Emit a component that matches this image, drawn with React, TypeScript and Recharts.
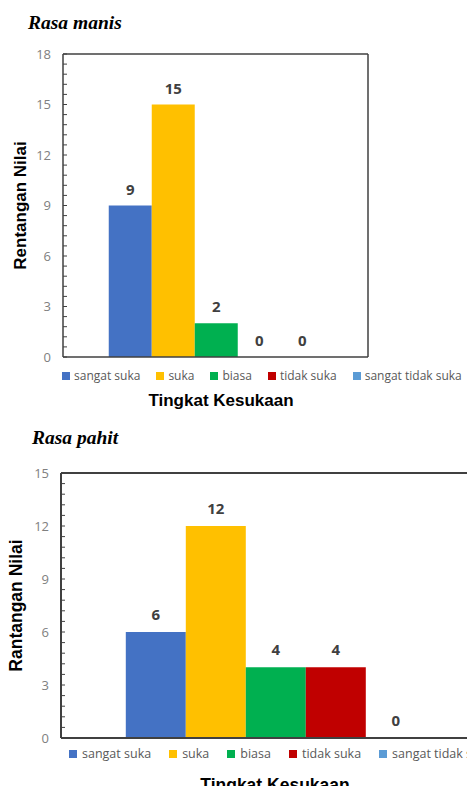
import React from 'react'
import { BarChart, Bar, XAxis, YAxis, Legend, LabelList, Label, CartesianGrid } from 'recharts'

// categories and colours shared by both charts
const categories = ['sangat suka', 'suka', 'biasa', 'tidak suka', 'sangat tidak suka']
const colors = ['#4472C4', '#FFC000', '#00B050', '#C00000', '#5B9BD5']

// Rasa manis
const manisValues = [9, 15, 2, 0, 0]
const manisTicks = [0, 3, 6, 9, 12, 15, 18]

// Rasa pahit
const pahitValues = [6, 12, 4, 4, 0]
const pahitTicks = [0, 3, 6, 9, 12, 15]

const xTitle = 'Tingkat Kesukaan'
const AXIS = '#404040'

// minor tick every 1/5 of a major step
const withMinor = (major: number[]) => {
  const step = major[1] - major[0]
  const out: number[] = []
  for (let i = 0; i <= (major.length - 1) * 5; i++) out.push((i * step) / 5)
  return out
}

const YTick = (props: any) => {
  const { x, y, payload, major, len } = props
  const ax = x + 12
  const v = payload.value
  const isMajor = major.some((m: number) => Math.abs(m - v) < 1e-6)
  return (
    <g>
      <line x1={ax} y1={y} x2={ax + len} y2={y} stroke={AXIS} strokeWidth={1} />
      {isMajor && (
        <text x={x} y={y} dy={4.5} textAnchor="end" fill="#808080" fontFamily="'Open Sans', sans-serif" fontSize={13}>
          {v}
        </text>
      )}
    </g>
  )
}

const YTitle = (props: any) => {
  const { viewBox, text, cxOff, size } = props
  const cx = viewBox.x + cxOff
  const cy = viewBox.y + viewBox.height / 2
  return (
    <text
      x={cx}
      y={cy}
      dy={size * 0.35}
      transform={`rotate(-90 ${cx} ${cy})`}
      textAnchor="middle"
      fontFamily="'Liberation Sans Narrow', 'Liberation Sans', Arial, sans-serif"
      fontWeight="bold"
      fontSize={size}
      fill="#000"
    >
      {text}
    </text>
  )
}

const XTitle = (props: any) => {
  const { viewBox, dx, dy, size } = props
  return (
    <text
      x={viewBox.x + viewBox.width / 2 + dx}
      y={viewBox.y + dy}
      dy={size * 0.35}
      textAnchor="middle"
      fontFamily="'Liberation Sans Narrow', 'Liberation Sans', Arial, sans-serif"
      fontWeight="bold"
      fontSize={size}
      fill="#000"
    >
      {xTitle}
    </text>
  )
}

// legend drawn in category order
const legendContent = (fontSize: number, gap: number, space: number) => () => (
  <div style={{ display: 'flex', whiteSpace: 'nowrap', fontFamily: "'Open Sans', sans-serif", fontSize, color: '#595959', lineHeight: '18px' }}>
    {categories.map((cat, i) => (
      <div key={cat} style={{ display: 'flex', alignItems: 'center', marginRight: space }}>
        <span style={{ width: 8, height: 8, background: colors[i], marginRight: gap, display: 'inline-block' }} />
        <span>{cat}</span>
      </div>
    ))}
  </div>
)

interface ChartProps {
  values: number[]
  ticks: number[]
  yTitle: string
  width: number
  height: number
  margin: { top: number; right: number; left: number; bottom: number }
  yWidth: number
  xHeight: number
  lineW: number
  labelOffset: number
  legendPos: { top: number; left: number }
  legendFont: number
  legendGap: number
  legendSpace: number
  yTitleX: number
  xTitleDx: number
  xTitleDy: number
  titleSize: number
}

function ScoreChart(c: ChartProps) {
  const row: any = { name: xTitle }
  categories.forEach((cat, i) => (row[`k${i}`] = c.values[i]))
  const top = c.ticks[c.ticks.length - 1]
  return (
    <BarChart width={c.width} height={c.height} data={[row]} margin={c.margin} barCategoryGap="15%" barGap={0}>
      {/* top and right edges of the plot frame */}
      <CartesianGrid
        stroke={AXIS}
        strokeWidth={c.lineW}
        horizontalCoordinatesGenerator={(p: any) => [p.offset.top]}
        verticalCoordinatesGenerator={(p: any) => [p.offset.left + p.offset.width]}
      />
      <XAxis dataKey="name" type="category" tick={false} tickLine={false} height={c.xHeight} axisLine={{ stroke: AXIS, strokeWidth: c.lineW }}>
        <Label content={<XTitle dx={c.xTitleDx} dy={c.xTitleDy} size={c.titleSize} />} />
      </XAxis>
      <YAxis
        type="number"
        domain={[0, top]}
        ticks={withMinor(c.ticks)}
        interval={0}
        tickSize={0}
        tickMargin={12}
        tickLine={false}
        tick={<YTick major={c.ticks} len={4} />}
        width={c.yWidth}
        axisLine={{ stroke: AXIS, strokeWidth: c.lineW }}
      >
        <Label content={<YTitle text={c.yTitle} cxOff={c.yTitleX} size={c.titleSize} />} />
      </YAxis>
      <Legend
        layout="horizontal"
        verticalAlign="middle"
        align="center"
        wrapperStyle={{ top: c.legendPos.top, left: c.legendPos.left, width: 'auto' }}
        content={legendContent(c.legendFont, c.legendGap, c.legendSpace)}
      />
      {categories.map((cat, i) => (
        <Bar key={cat} dataKey={`k${i}`} name={cat} fill={colors[i]} minPointSize={0.01} isAnimationActive={false}>
          <LabelList
            dataKey={`k${i}`}
            position="top"
            offset={c.labelOffset}
            fill="#404040"
            fontFamily="'Open Sans', sans-serif"
            fontWeight="bold"
            fontSize={15}
          />
        </Bar>
      ))}
    </BarChart>
  )
}

const titleStyle: React.CSSProperties = {
  position: 'absolute',
  fontFamily: "'Liberation Serif', 'Times New Roman', serif",
  fontWeight: 'bold',
  fontStyle: 'italic',
  fontSize: 19.5,
  lineHeight: '19.5px',
  whiteSpace: 'nowrap',
}

export default function App() {
  return (
    <div style={{ position: 'relative', width: 475, height: 794, overflow: 'hidden', margin: -8, background: '#fff' }}>
      <div style={{ ...titleStyle, top: 12.7, left: 28 }}>Rasa manis</div>
      <div style={{ position: 'absolute', top: 0, left: 0 }}>
        <ScoreChart
          values={manisValues}
          ticks={manisTicks}
          yTitle="Rentangan Nilai"
          width={475}
          height={420}
          margin={{ top: 54, right: 107, left: 0, bottom: 0 }}
          yWidth={63}
          xHeight={63}
          lineW={1.5}
          labelOffset={11}
          legendPos={{ top: 367, left: 62 }}
          legendFont={12}
          legendGap={4}
          legendSpace={16}
          yTitleX={20}
          xTitleDx={5.5}
          xTitleDy={43}
          titleSize={17}
        />
      </div>
      <div style={{ ...titleStyle, top: 427.7, left: 32 }}>Rasa pahit</div>
      <div style={{ position: 'absolute', top: 420, left: 0 }}>
        <ScoreChart
          values={pahitValues}
          ticks={pahitTicks}
          yTitle="Rantangan Nilai"
          width={500}
          height={390}
          margin={{ top: 53, right: 7, left: 0, bottom: 0 }}
          yWidth={61}
          xHeight={72}
          lineW={2}
          labelOffset={12}
          legendPos={{ top: 325, left: 69 }}
          legendFont={12.5}
          legendGap={5}
          legendSpace={18}
          yTitleX={16}
          xTitleDx={-2}
          xTitleDy={47}
          titleSize={17.5}
        />
      </div>
    </div>
  )
}
